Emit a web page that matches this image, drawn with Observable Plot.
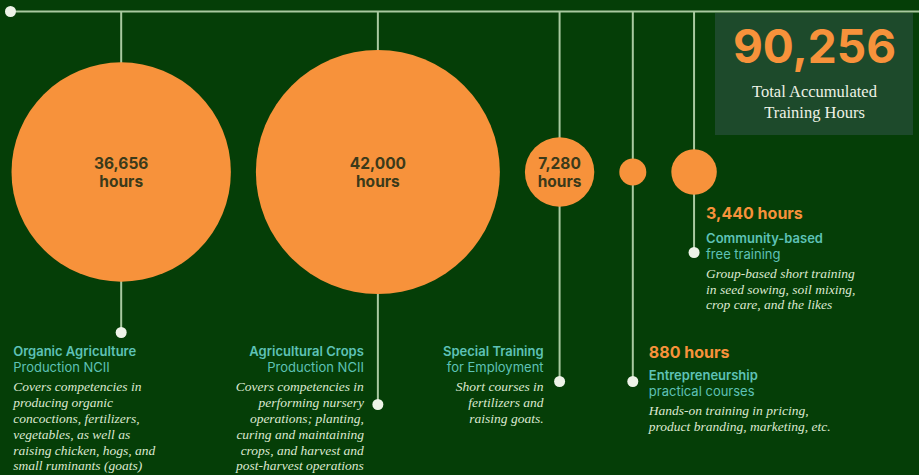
<!DOCTYPE html>
<html><head><meta charset="utf-8">
<script src="https://cdn.jsdelivr.net/npm/d3@7"></script>
<script src="https://cdn.jsdelivr.net/npm/@observablehq/plot@0.6"></script>
<style>
html,body{margin:0;padding:0;background:#053e07;overflow:hidden;}
svg{display:block;}
</style></head><body><div id="chart"></div>
<script>
// ---- data ----
const programs = ["Organic Agriculture","Agricultural Crops","Special Training","Entrepreneurship","Community-based"];
const subtitles = ["Production NCII","Production NCII","for Employment","practical courses","free training"];
const hours = [36656, 42000, 7280, 880, 3440];
const descriptions = [
  ["Covers competencies in","producing organic","concoctions, fertilizers,","vegetables, as well as","raising chicken, hogs, and","small ruminants (goats)"],
  ["Covers competencies in","performing nursery","operations; planting,","curing and maintaining","crops, and harvest and","post-harvest operations"],
  ["Short courses in","fertilizers and","raising goats."],
  ["Hands-on training in pricing,","product branding, marketing, etc."],
  ["Group-based short training","in seed sowing, soil mixing,","crop care, and the likes"]
];
const totalLabel = ["Total Accumulated","Training Hours"];

// ---- layout (not data) ----
const layout = [
  {dotY: 332, anchor: "start", dx: -108, hoursY: null, titleY: 351, descY: 386.5},
  {dotY: 404, anchor: "end",   dx: -14,  hoursY: null, titleY: 351, descY: 386.5},
  {dotY: 381, anchor: "end",   dx: -16,  hoursY: null, titleY: 351, descY: 386.5},
  {dotY: 381, anchor: "start", dx: 16,   hoursY: 352,  titleY: 375.5, descY: 410},
  {dotY: 252, anchor: "start", dx: 12,   hoursY: 213,  titleY: 238, descY: 273}
];
const C = {bg:"#053e07", line:"#a9c9a0", orange:"#f7923b", dark:"#3b3a1a", teal:"#5ec2b6", desc:"#dce8d0", box:"#1d4a2b", cap:"#eef2e6"};
const sans = "Inter, 'Open Sans', sans-serif";
const serif = "'Liberation Serif', 'DejaVu Serif', serif";

const rOpts = {type: "pow", exponent: 0.85, domain: [0, 42000], range: [9.3, 122]};
const rScale = Plot.scale({r: rOpts});
const radii = hours.map(h => rScale.apply(h));
const cx = [];
let acc = 11;
radii.forEach((rr, i) => { acc += i === 0 ? rr : radii[i-1] + 25 + rr; cx.push(acc); });
const cy = 171.5;
const fmt = d3.format(",");

const data = programs.map((p, i) => ({i, program: p, sub: subtitles[i], hours: hours[i], x: cx[i], ...layout[i], tx: cx[i] + layout[i].dx}));
const descRows = data.flatMap(d => descriptions[d.i].map((line, k) => ({...d, line, y: d.descY + k * 15.8})));
const hoursRows = data.filter(d => d.hoursY != null);
const inside = data.filter(d => d.hoursY == null);
const total = d3.sum(hours);

function labelMarks(anchor) {
  const rows = data.filter(d => d.anchor === anchor);
  const drows = descRows.filter(d => d.anchor === anchor);
  return [
    Plot.text(rows, {x: "tx", y: "titleY", text: "program", textAnchor: anchor, fill: C.teal, fontSize: 13, fontWeight: 600, fontFamily: sans}),
    Plot.text(rows, {x: "tx", y: d => d.titleY + 16, text: "sub", textAnchor: anchor, fill: C.teal, fontSize: 13, fontWeight: 400, fontFamily: sans}),
    Plot.text(drows, {x: "tx", y: "y", text: "line", textAnchor: anchor, fill: C.desc, fontSize: 13.5, fontStyle: "italic", fontFamily: serif})
  ];
}

const chart = Plot.plot({
  width: 919, height: 475, margin: 0,
  x: {type: "identity", axis: null},
  y: {type: "identity", axis: null},
  r: rOpts,
  style: {background: C.bg, overflow: "visible"},
  marks: [
    Plot.rect([total], {x1: 715, x2: 913, y1: 13, y2: 135, fill: C.box}),
    Plot.ruleY([11], {x1: 10, x2: 919, stroke: C.line, strokeWidth: 2}),
    Plot.dot([0], {x: 10, y: 11, r: 5.5, fill: "#eef3e8"}),
    Plot.ruleX(data, {x: "x", y1: 11, y2: "dotY", stroke: C.line, strokeWidth: 2}),
    Plot.dot(data, {x: "x", y: cy, r: "hours", fill: C.orange}),
    Plot.dot(data, {x: "x", y: "dotY", r: 5.5, fill: "#eef3e8"}),
    Plot.text(inside, {x: "x", y: cy, text: d => fmt(d.hours) + "\nhours", lineHeight: 1.15, fill: C.dark, fontSize: 15.5, fontWeight: 700, fontFamily: sans}),
    Plot.text(hoursRows, {x: "tx", y: "hoursY", text: d => fmt(d.hours) + " hours", textAnchor: "start", fill: C.orange, fontSize: 16, fontWeight: 700, fontFamily: sans}),
    ...labelMarks("start"),
    ...labelMarks("end"),
    Plot.text([total], {x: 814, y: 48, text: d => fmt(d), fill: C.orange, fontSize: 46, fontWeight: 700, fontFamily: sans}),
    Plot.text(totalLabel, {x: 814, y: (d, k) => 91 + k * 21, text: d => d, fill: C.cap, fontSize: 16.5, fontFamily: serif})
  ]
});
document.getElementById("chart").appendChild(chart);
</script>
</body></html>
